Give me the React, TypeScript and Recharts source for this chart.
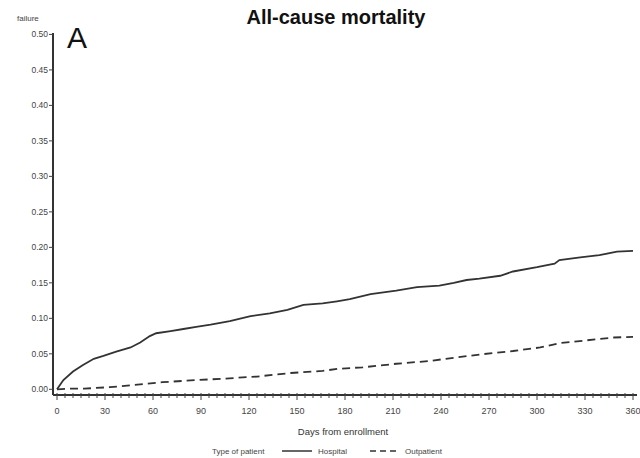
import React from 'react';
import { LineChart, Line, XAxis, YAxis } from 'recharts';

const hospitalDays = [0, 4, 10, 16, 23, 29, 37, 46, 52, 58, 62, 71, 79, 87, 96, 108, 121, 133, 144, 154, 166, 175, 183, 196, 212, 225, 239, 248, 256, 264, 277, 285, 300, 311, 314, 327, 339, 350, 360];
const hospitalRisk = [0, 0.013, 0.025, 0.034, 0.043, 0.047, 0.053, 0.059, 0.066, 0.075, 0.079, 0.082, 0.085, 0.088, 0.091, 0.096, 0.103, 0.107, 0.112, 0.119, 0.121, 0.124, 0.127, 0.134, 0.139, 0.144, 0.146, 0.15, 0.154, 0.156, 0.16, 0.166, 0.172, 0.177, 0.182, 0.186, 0.189, 0.194, 0.195];

const outpatientDays = [0, 8, 17, 33, 48, 66, 87, 104, 125, 146, 166, 176, 191, 212, 233, 250, 264, 285, 302, 314, 331, 348, 360];
const outpatientRisk = [0, 0.001, 0.001, 0.003, 0.006, 0.01, 0.013, 0.015, 0.018, 0.023, 0.026, 0.029, 0.031, 0.036, 0.04, 0.045, 0.049, 0.054, 0.059, 0.065, 0.069, 0.073, 0.074];

const xTicks = [0, 5, 10, 15, 20, 25, 30, 35, 40, 45, 50, 55, 60, 65, 70, 75, 80, 85, 90, 95, 100, 105, 110, 115, 120, 125, 130, 135, 140, 145, 150, 155, 160, 165, 170, 175, 180, 185, 190, 195, 200, 205, 210, 215, 220, 225, 230, 235, 240, 245, 250, 255, 260, 265, 270, 275, 280, 285, 290, 295, 300, 305, 310, 315, 320, 325, 330, 335, 340, 345, 350, 355, 360];
const xLabelTicks = [0, 30, 60, 90, 120, 150, 180, 210, 240, 270, 300, 330, 360];
const yTicks = [0, 0.05, 0.1, 0.15, 0.2, 0.25, 0.3, 0.35, 0.4, 0.45, 0.5];

const hospitalData = hospitalDays.map((d, i) => ({ day: d, v: hospitalRisk[i] }));
const outpatientData = outpatientDays.map((d, i) => ({ day: d, v: outpatientRisk[i] }));

const FONT = '"Liberation Sans", Arial, sans-serif';

const XTick = (props: any) => {
  const { x, y, payload } = props;
  const v = payload.value;
  const major = xLabelTicks.includes(v);
  return (
    <g>
      <line x1={x} x2={x} y1={y - 2} y2={y + (major ? 5 : 3)} stroke="#444" strokeWidth={1} />
      {major && (
        <text x={x} y={y + 19} textAnchor="middle" fontSize={9} fill="#444" fontFamily={FONT}>
          {v}
        </text>
      )}
    </g>
  );
};

const YTick = (props: any) => {
  const { x, y, payload } = props;
  return (
    <g>
      <line x1={x - 4} x2={x} y1={y} y2={y} stroke="#444" strokeWidth={1} />
      <text x={x - 5} y={y + 3} textAnchor="end" fontSize={8.5} fill="#444" fontFamily={FONT}>
        {payload.value.toFixed(2)}
      </text>
    </g>
  );
};

export default function App() {
  return (
    <div style={{ position: 'absolute', left: 0, top: 0, width: 640, height: 458, background: '#fff' }}>
      <LineChart width={640} height={458} margin={{ top: 33, right: 3, bottom: 0, left: 0 }}>
        <XAxis
          type="number"
          dataKey="day"
          domain={[-2.5, 362.5]}
          ticks={xTicks}
          interval={0}
          height={63}
          tickSize={0}
          tickMargin={0}
          tick={<XTick />}
          axisLine={{ stroke: '#333', strokeWidth: 2 }}
          allowDataOverflow
        />
        <YAxis
          type="number"
          domain={[-0.008, 0.502]}
          ticks={yTicks}
          interval={0}
          width={53}
          tickSize={0}
          tickMargin={0}
          tick={<YTick />}
          axisLine={{ stroke: '#333', strokeWidth: 2 }}
          allowDataOverflow
        />
        <Line
          data={hospitalData}
          dataKey="v"
          type="linear"
          stroke="#333"
          strokeWidth={1.8}
          dot={false}
          isAnimationActive={false}
        />
        <Line
          data={outpatientData}
          dataKey="v"
          type="linear"
          stroke="#333"
          strokeWidth={1.8}
          strokeDasharray="8 5"
          dot={false}
          isAnimationActive={false}
        />
      </LineChart>
      <svg width={640} height={458} style={{ position: 'absolute', left: 0, top: 0, pointerEvents: 'none' }}>
        <text x={336} y={24} textAnchor="middle" fontSize={20} fontWeight="bold" fill="#111" fontFamily={FONT}>
          All-cause mortality
        </text>
        <text x={67} y={48} fontSize={30} fill="#111" fontFamily={FONT}>
          A
        </text>
        <text x={17} y={21} fontSize={8} fill="#444" fontFamily={FONT}>
          failure
        </text>
        <text x={343} y={435} textAnchor="middle" fontSize={9.5} fill="#333" fontFamily={FONT}>
          Days from enrollment
        </text>
        <text x={212} y={454} fontSize={8} fill="#444" fontFamily={FONT}>
          Type of patient
        </text>
        <line x1={282} x2={312} y1={451} y2={451} stroke="#333" strokeWidth={1.5} />
        <text x={318} y={454} fontSize={8} fill="#444" fontFamily={FONT}>
          Hospital
        </text>
        <line x1={370} x2={400} y1={451} y2={451} stroke="#333" strokeWidth={1.5} strokeDasharray="6 4" />
        <text x={405} y={454} fontSize={8} fill="#444" fontFamily={FONT}>
          Outpatient
        </text>
      </svg>
    </div>
  );
}
